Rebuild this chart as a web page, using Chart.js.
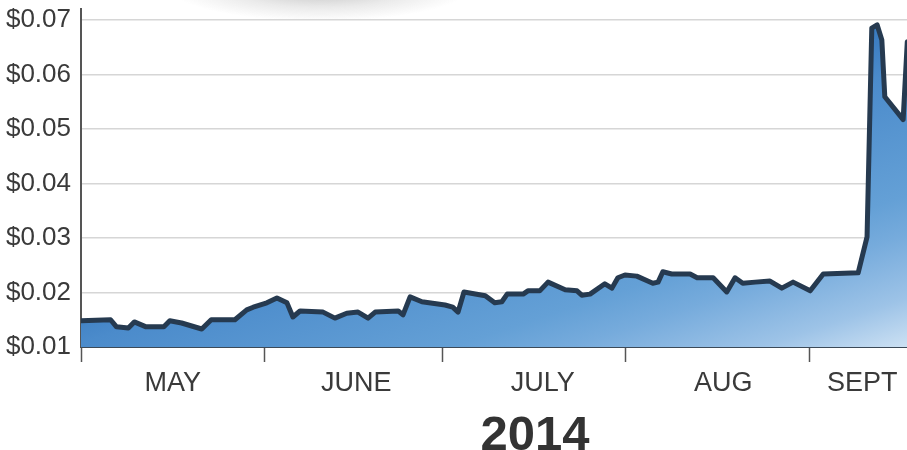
<!DOCTYPE html>
<html lang="en">
  <head>
    <meta charset="UTF-8" />
    <title>Price 2014</title>
    <script src="https://cdn.jsdelivr.net/npm/chart.js"></script>
    <style>
      body { margin: 0; background: #fff; }
      #wrap { position: relative; width: 907px; height: 450px; overflow: hidden; }
      #year {
        position: absolute; left: 435px; top: 409px; width: 200px;
        text-align: center; font: bold 49px "Liberation Sans", Arial, sans-serif;
        line-height: 48px; color: #333;
      }
    </style>
  </head>
  <body>
    <div id="wrap">
      <canvas id="chart" width="907" height="450"></canvas>
      <div id="year">2014</div>
    </div>
    <script>
      // days since May 1 2014
      const days = [0, 5, 6, 8, 9, 11, 14, 15, 17, 20.4, 22, 26, 28, 29.1, 31.4, 33.1, 34.8, 35.8, 37, 40.9,
        42.9, 44.9, 46.8, 48.5, 49.7, 53.6, 54.4, 55.6, 57.6, 61.5, 62.8, 63.7, 64.7, 68.3, 69.9, 71.1, 72, 74.7, 75.5, 77.5,
        78.9, 81.8, 83.8, 84.6, 86, 88.5, 89.7, 90.7, 91.9, 93.9, 96.6, 97.5, 98.3, 99.8, 102.9, 104.1, 106.8, 109.1, 110.5, 111.8,
        113.9, 116.4, 118.4, 120.3, 123.2, 125.4, 131.3, 132.8, 133.6, 134.5, 135.3, 135.8, 138.9, 139.6];
      const prices = [0.0148, 0.0150, 0.0137, 0.0135, 0.0146, 0.0137, 0.0137, 0.0148, 0.0144, 0.0133,
        0.0150, 0.0150, 0.0168, 0.0173, 0.0181, 0.0190, 0.0181, 0.0155, 0.0166, 0.0164,
        0.0153, 0.0162, 0.0164, 0.0153, 0.0164, 0.0166, 0.0159, 0.0192, 0.0183, 0.0177,
        0.0173, 0.0164, 0.0201, 0.0194, 0.0181, 0.0183, 0.0197, 0.0197, 0.0203, 0.0203,
        0.0219, 0.0205, 0.0203, 0.0195, 0.0197, 0.0216, 0.0208, 0.0227, 0.0232, 0.0230,
        0.0217, 0.0219, 0.0238, 0.0234, 0.0234, 0.0227, 0.0227, 0.0201, 0.0227, 0.0217,
        0.0219, 0.0221, 0.0208, 0.0219, 0.0203, 0.0234, 0.0236, 0.0302, 0.0685, 0.0691,
        0.0663, 0.0559, 0.0517, 0.0660];

      const monthStarts = [0, 31, 61, 92, 123];
      const monthNames = ["MAY", "JUNE", "JULY", "AUG", "SEPT"];
      const monthLabelDays = [15.5, 46.5, 78, 108.5, 132];
      const priceTicks = [0.01, 0.02, 0.03, 0.04, 0.05, 0.06, 0.07];

      const fontFamily = "'Liberation Sans', Arial, sans-serif";

      const topSmudge = {
        id: "topSmudge",
        beforeDraw(chart) {
          const c = chart.ctx;
          c.save();
          c.translate(320, -12);
          c.scale(1, 0.22);
          const g = c.createRadialGradient(0, 0, 0, 0, 0, 150);
          g.addColorStop(0, "rgba(80,80,80,0.4)");
          g.addColorStop(0.6, "rgba(120,120,120,0.15)");
          g.addColorStop(1, "rgba(120,120,120,0)");
          c.fillStyle = g;
          c.fillRect(-150, -150, 300, 300);
          c.restore();
        },
      };

      const ctx = document.getElementById("chart").getContext("2d");
      new Chart(ctx, {
        type: "line",
        data: {
          datasets: [
            {
              data: days.map((d, i) => ({ x: d, y: prices[i] })),
              borderColor: "#263a50",
              borderWidth: 5,
              borderJoinStyle: "round",
              borderCapStyle: "round",
              pointRadius: 0,
              tension: 0,
              fill: "start",
              backgroundColor: (context) => {
                const area = context.chart.chartArea;
                if (!area) return "#5b98d3";
                const g = context.chart.ctx.createLinearGradient(90, 270, 196, 588);
                g.addColorStop(0, "#3376bc");
                g.addColorStop(0.09, "#3d7ec2");
                g.addColorStop(0.2, "#4b8bcb");
                g.addColorStop(0.56, "#64a0d6");
                g.addColorStop(0.67, "#76abdc");
                g.addColorStop(0.85, "#9dc3e7");
                g.addColorStop(1, "#d0e3f4");
                return g;
              },
            },
          ],
        },
        options: {
          responsive: false,
          animation: false,
          layout: { padding: { top: 9, right: 0, left: 0, bottom: 0 } },
          plugins: { legend: { display: false }, tooltip: { enabled: false } },
          scales: {
            x: {
              type: "linear",
              min: 0,
              max: 139.55,
              afterBuildTicks: (axis) => {
                axis.ticks = monthStarts.concat(monthLabelDays).sort((a, b) => a - b).map((v) => ({ value: v }));
              },
              afterFit: (axis) => {
                axis.height = 103;
                axis.paddingLeft = 0;
                axis.paddingRight = 0;
              },
              grid: {
                drawOnChartArea: false,
                drawTicks: true,
                tickLength: 15,
                tickWidth: 1.5,
                tickColor: (c) => (monthStarts.includes(c.tick.value) ? "#555" : "rgba(0,0,0,0)"),
              },
              border: { display: true, color: "#3c4a58", width: 2 },
              ticks: {
                autoSkip: false,
                maxRotation: 0,
                padding: 5,
                color: "#3a3a3a",
                font: { family: fontFamily, size: 27 },
                callback: (v) => {
                  const i = monthLabelDays.indexOf(v);
                  return i >= 0 ? monthNames[i] : "";
                },
              },
            },
            y: {
              min: 0.01,
              max: 0.072,
              afterBuildTicks: (axis) => {
                axis.ticks = priceTicks.map((v) => ({ value: v }));
              },
              afterFit: (axis) => {
                axis.width = 81;
                axis.paddingTop = 0;
                axis.paddingBottom = 0;
              },
              grid: { color: "#d6d6d6", lineWidth: 1.5, drawTicks: false },
              border: { display: true, color: "#555", width: 2 },
              ticks: {
                padding: 10,
                color: "#3a3a3a",
                font: { family: fontFamily, size: 26 },
                callback: (v) => "$" + v.toFixed(2),
              },
            },
          },
        },
        plugins: [topSmudge],
      });
    </script>
  </body>
</html>
